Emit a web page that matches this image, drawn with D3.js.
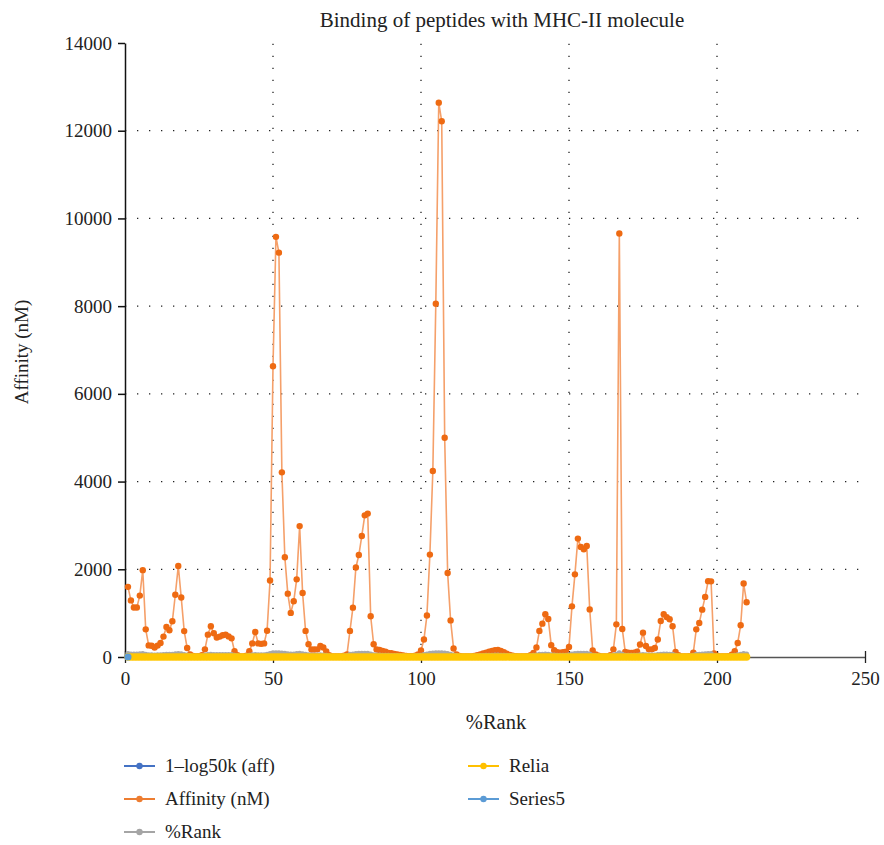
<!DOCTYPE html>
<html>
<head>
<meta charset="utf-8">
<script src="https://cdn.jsdelivr.net/npm/d3@7"></script>
<style>
  body { margin: 0; background: #fff; }
  svg text { font-family: "Liberation Serif", "DejaVu Serif", serif; fill: #222; }
</style>
</head>
<body>
<div id="chart"></div>
<script>
// first peptide sits at %Rank 1, one point per step
const rankStart = 1;

// Affinity (nM)
const affinity = [
  1600,1290,1130,1130,1400,1980,630,265,255,215,
  260,320,465,685,610,815,1420,2075,1355,590,
  205,60,25,15,20,40,175,510,700,540,
  445,465,495,510,470,425,130,40,15,10,
  30,130,310,570,310,300,310,600,1745,6630,
  9580,9220,4210,2275,1445,1005,1270,1770,2985,1460,
  595,290,170,170,175,250,215,125,40,15,
  10,10,15,30,60,595,1125,2040,2325,2760,
  3230,3270,930,290,170,160,140,120,95,85,
  70,60,45,35,25,20,20,30,60,150,
  400,945,2335,4240,8055,12640,12215,5000,1915,835,
  195,60,25,15,10,10,15,25,40,60,
  80,100,120,140,155,160,140,110,75,45,
  30,20,15,10,10,20,40,90,215,595,
  760,975,865,270,155,110,100,110,120,230,
  1155,1885,2700,2510,2455,2530,1085,150,60,30,
  15,10,15,40,175,745,9655,640,115,100,
  95,100,120,285,555,250,175,175,205,400,
  820,975,910,860,700,115,40,15,10,10,
  20,100,630,775,1080,1370,1730,1725,80,30,
  15,10,10,20,50,130,320,725,1675,1250
];

// %Rank
const pctRank = [
  76,68,66,66,70,78,60,48,48,46,
  48,50,53,61,59,63,71,79,69,57,
  45,32,22,18,20,27,42,55,61,56,
  53,53,54,55,53,52,38,27,18,15,
  24,38,50,57,50,50,50,58,76,92,
  95,95,89,81,72,66,68,76,85,72,
  58,49,42,42,42,47,46,38,27,18,
  15,15,18,24,32,58,66,79,81,84,
  86,86,64,49,42,41,39,37,35,34,
  33,32,29,26,22,20,20,24,32,40,
  52,64,81,89,94,97,97,90,78,63,
  44,32,22,18,15,15,18,22,27,32,
  34,36,38,40,41,42,40,37,34,30,
  24,20,18,15,15,20,27,35,46,58,
  62,65,63,48,41,36,36,36,37,47,
  67,77,84,83,82,83,66,40,32,24,
  18,15,18,27,42,62,95,60,37,36,
  35,36,37,49,56,47,42,42,45,52,
  63,65,64,63,61,37,27,18,15,15,
  20,36,60,62,66,69,76,76,34,24,
  18,15,15,20,30,38,50,61,75,68
];

// 1-log50k (aff)
const logAff = [
  .32,.34,.35,.35,.33,.30,.40,.48,.49,.50,
  .49,.47,.43,.40,.41,.38,.33,.29,.33,.41,
  .51,.62,.70,.75,.72,.66,.52,.42,.39,.42,
  .44,.43,.43,.42,.43,.44,.55,.66,.75,.79,
  .69,.55,.47,.41,.47,.47,.47,.41,.31,.19,
  .15,.16,.23,.29,.33,.36,.34,.31,.26,.33,
  .41,.48,.53,.53,.52,.49,.50,.55,.66,.75,
  .79,.79,.75,.69,.62,.41,.35,.30,.28,.27,
  .25,.25,.37,.48,.53,.53,.54,.56,.58,.59,
  .61,.62,.65,.67,.70,.72,.72,.69,.62,.54,
  .45,.37,.28,.23,.17,.13,.13,.21,.30,.38,
  .51,.62,.70,.75,.79,.79,.75,.70,.66,.62,
  .60,.57,.55,.54,.53,.53,.54,.56,.60,.64,
  .69,.72,.75,.79,.79,.72,.66,.58,.50,.41,
  .39,.36,.38,.48,.53,.57,.57,.57,.56,.50,
  .35,.30,.27,.28,.28,.28,.35,.54,.62,.69,
  .75,.79,.75,.66,.52,.39,.15,.40,.56,.57,
  .58,.57,.56,.48,.42,.49,.52,.52,.51,.45,
  .38,.36,.37,.38,.39,.56,.66,.75,.79,.79,
  .72,.57,.40,.38,.35,.33,.31,.31,.60,.69,
  .75,.79,.79,.72,.64,.55,.47,.39,.31,.34
];

// Relia
const relia = [
  0,0,0,0,0,0,0,0,0,0, 0,0,0,0,0,0,0,0,0,0,
  0,0,0,0,0,0,0,0,0,0, 0,0,0,0,0,0,0,0,0,0,
  0,0,0,0,0,0,0,0,0,0, 0,0,0,0,0,0,0,0,0,0,
  0,0,0,0,0,0,0,0,0,0, 0,0,0,0,0,0,0,0,0,0,
  0,0,0,0,0,0,0,0,0,0, 0,0,0,0,0,0,0,0,0,0,
  0,0,0,0,0,0,0,0,0,0, 0,0,0,0,0,0,0,0,0,0,
  0,0,0,0,0,0,0,0,0,0, 0,0,0,0,0,0,0,0,0,0,
  0,0,0,0,0,0,0,0,0,0, 0,0,0,0,0,0,0,0,0,0,
  0,0,0,0,0,0,0,0,0,0, 0,0,0,0,0,0,0,0,0,0,
  0,0,0,0,0,0,0,0,0,0, 0,0,0,0,0,0,0,0,0,0,
  0,0,0,0,0,0,0,0,0,0
];

// Series5 (single point)
const series5 = [0];

const xTicks = [0, 50, 100, 150, 200, 250];
const yTicks = [0, 2000, 4000, 6000, 8000, 10000, 12000, 14000];

const width = 884, height = 845;
const margin = {left: 125, right: 19, top: 43, bottom: 188};

const svg = d3.select('#chart').append('svg')
    .attr('width', width)
    .attr('height', height);

const x = d3.scaleLinear().domain([0, 250]).range([margin.left, width - margin.right]);
const y = d3.scaleLinear().domain([0, 14000]).range([height - margin.bottom, margin.top]);

// dotted gridlines
svg.append('g').selectAll('line.hg')
    .data(yTicks.slice(1, -1))
    .enter().append('line')
    .attr('x1', x(0)).attr('x2', x(250))
    .attr('y1', d => y(d)).attr('y2', d => y(d))
    .attr('stroke', '#222').attr('stroke-width', 1.3)
    .attr('stroke-dasharray', '1.3,10.7');
svg.append('g').selectAll('line.vg')
    .data(xTicks.slice(1, -1))
    .enter().append('line')
    .attr('x1', d => x(d)).attr('x2', d => x(d))
    .attr('y1', y(0)).attr('y2', y(14000))
    .attr('stroke', '#222').attr('stroke-width', 1.3)
    .attr('stroke-dasharray', '1.3,10.7');

// axes
const gx = svg.append('g')
    .attr('transform', 'translate(0,' + y(0) + ')')
    .call(d3.axisBottom(x).tickValues(xTicks).tickSizeInner(6).tickSizeOuter(0).tickPadding(9));
gx.select('.domain').attr('stroke', '#555').attr('stroke-width', 1.5);
gx.selectAll('.tick line').attr('y1', -6).attr('stroke', '#222').attr('stroke-width', 1.3);
gx.selectAll('.tick text').attr('font-size', 19);

const gy = svg.append('g')
    .attr('transform', 'translate(' + x(0) + ',0)')
    .call(d3.axisLeft(y).tickValues(yTicks).tickFormat(d3.format('d')).tickSizeInner(7).tickSizeOuter(0).tickPadding(6));
gy.select('.domain').attr('stroke', '#111').attr('stroke-width', 1.5);
gy.selectAll('.tick line').attr('stroke', '#111').attr('stroke-width', 1.5);
gy.selectAll('.tick text').attr('font-size', 19);

// series
function drawSeries(vals, lineColor, lineW, dotColor, r) {
    const pts = vals.map((v, i) => [rankStart + i, v]);
    const line = d3.line().x(d => x(d[0])).y(d => y(d[1]));
    const g = svg.append('g');
    g.append('path').datum(pts)
        .attr('d', line)
        .attr('fill', 'none')
        .attr('stroke', lineColor)
        .attr('stroke-width', lineW)
        .attr('stroke-linejoin', 'round');
    g.selectAll('circle').data(pts).enter().append('circle')
        .attr('cx', d => x(d[0]))
        .attr('cy', d => y(d[1]))
        .attr('r', r)
        .attr('fill', dotColor);
}

drawSeries(logAff, '#4472C4', 1.5, '#4472C4', 2.5);
drawSeries(affinity, '#F5A06A', 1.6, '#EE6A12', 3.2);
drawSeries(pctRank, '#B2B2B2', 1.5, '#A8A8A8', 2.6);
drawSeries(relia, '#E8B400', 2, '#FFC600', 3.7);
drawSeries(series5, '#5B9BD5', 1.5, '#5B9BD5', 3.6);

// titles
svg.append('text')
    .attr('x', 502).attr('y', 27)
    .attr('text-anchor', 'middle')
    .attr('font-size', 21)
    .text('Binding of peptides with MHC-II molecule');

svg.append('text')
    .attr('x', 496).attr('y', 729)
    .attr('text-anchor', 'middle')
    .attr('font-size', 20.5)
    .text('%Rank');

svg.append('text')
    .attr('transform', 'translate(28,352) rotate(-90)')
    .attr('text-anchor', 'middle')
    .attr('font-size', 19)
    .text('Affinity (nM)');

// legend
const legendNames = ['1–log50k (aff)', 'Affinity (nM)', '%Rank', 'Relia', 'Series5'];
const legendColors = ['#4472C4', '#ED7D31', '#A5A5A5', '#FFC000', '#5B9BD5'];
const legendPos = [[124, 766], [124, 799], [124, 832], [468, 766], [468, 799]];

const lg = svg.append('g').selectAll('g')
    .data(legendNames)
    .enter().append('g')
    .attr('transform', (d, i) => 'translate(' + legendPos[i][0] + ',' + legendPos[i][1] + ')');
lg.append('line')
    .attr('x1', 0).attr('x2', 31)
    .attr('stroke', (d, i) => legendColors[i])
    .attr('stroke-width', 2);
lg.append('circle')
    .attr('cx', 15.5).attr('r', 3.2)
    .attr('fill', (d, i) => legendColors[i]);
lg.append('text')
    .attr('x', 41).attr('y', 6)
    .attr('font-size', 19)
    .text(d => d);
</script>
</body>
</html>
